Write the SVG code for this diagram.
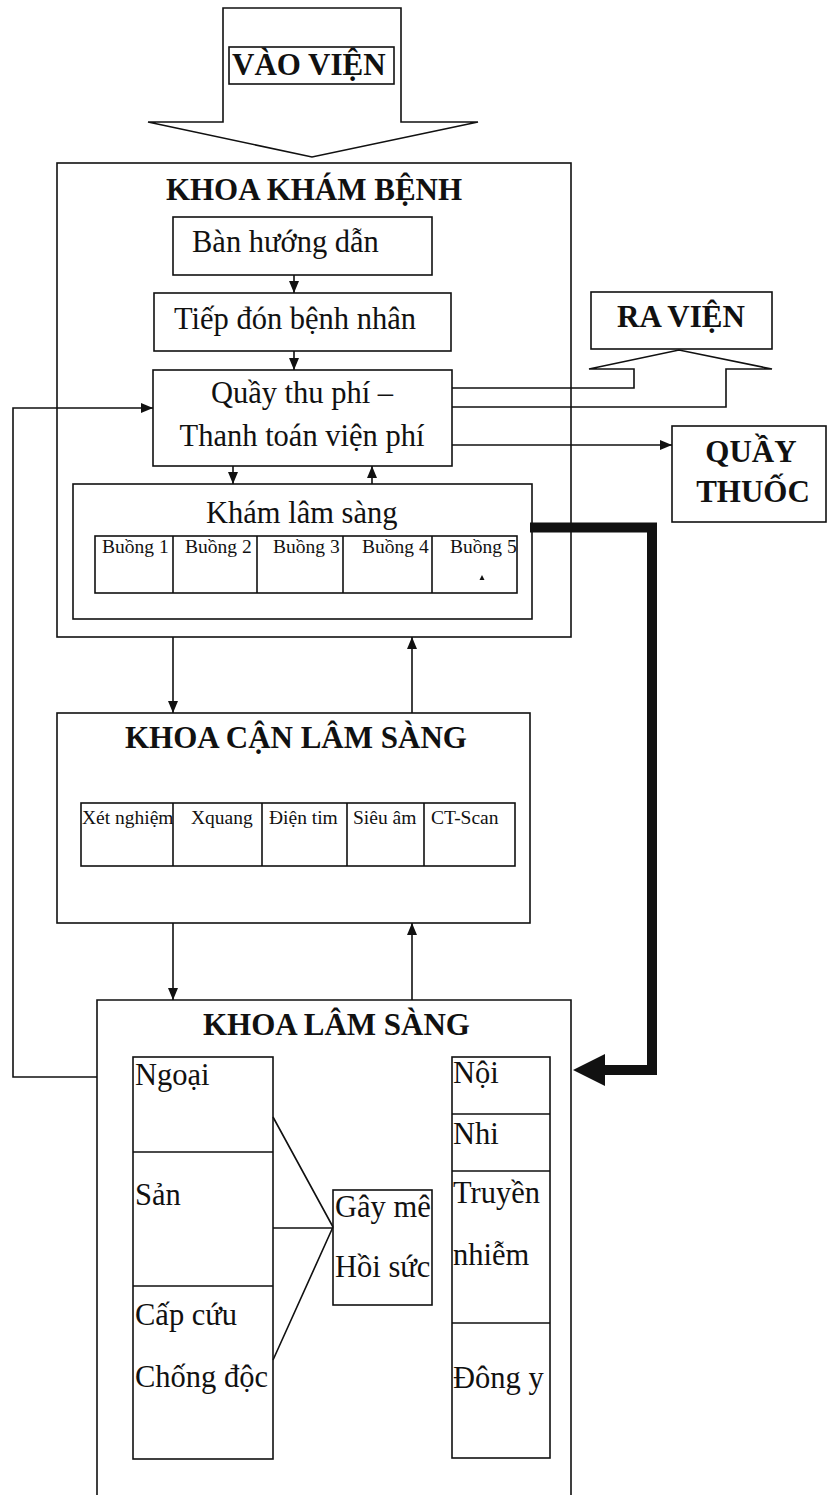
<svg xmlns="http://www.w3.org/2000/svg" width="828" height="1495" viewBox="0 0 828 1495">
  <defs>
    <style>
      .box{fill:none;stroke:#111;stroke-width:1.6}
      .ln{fill:none;stroke:#111;stroke-width:1.6}
      .t{font-family:"Liberation Serif","Times New Roman",serif;font-size:30.5px;fill:#111}
      .b{font-weight:bold;font-size:31px}
      .s{font-size:19.5px}
      .m{text-anchor:middle}
    </style>
    <marker id="ah" viewBox="0 0 12 10" refX="12" refY="5" markerWidth="12" markerHeight="10" markerUnits="userSpaceOnUse" orient="auto">
      <path d="M0,0 L12,5 L0,10 Z" fill="#111"/>
    </marker>
  </defs>
  <rect width="828" height="1495" fill="#fff"/>

  <!-- entry: big hollow arrow -->
  <g id="vao-vien">
    <polygon class="box" points="223,8 401,8 401,122 478,122 312,157 148,122 223,122"/>
    <rect class="box" x="229" y="47" width="165" height="37"/>
    <text class="t b" x="232" y="75">VÀO VIỆN</text>
  </g>

  <!-- outpatient department -->
  <g id="khoa-kham-benh">
    <rect class="box" x="57" y="163" width="514" height="474"/>
    <text class="t b m" x="314" y="200">KHOA KHÁM BỆNH</text>
  </g>
  <g id="ban-huong-dan">
    <rect class="box" x="173" y="217" width="259" height="58"/>
    <text class="t" x="192" y="252">Bàn hướng dẫn</text>
  </g>
  <g id="tiep-don">
    <rect class="box" x="154" y="293" width="297" height="58"/>
    <text class="t" x="174" y="329">Tiếp đón bệnh nhân</text>
  </g>
  <g id="quay-thu-phi">
    <rect class="box" x="153" y="370" width="299" height="96"/>
    <text class="t m" x="302" y="403">Quầy thu phí –</text>
    <text class="t m" x="302" y="446">Thanh toán viện phí</text>
  </g>
  <g id="kham-lam-sang">
    <rect class="box" x="73" y="484" width="459" height="135"/>
    <text class="t" x="206" y="523">Khám lâm sàng</text>
    <rect class="box" x="95" y="536" width="422" height="57"/>
    <path class="ln" d="M173,536 V593 M257,536 V593 M343,536 V593 M432,536 V593"/>
    <text class="t s" x="102" y="553">Buồng 1</text>
    <text class="t s" x="185" y="553">Buồng 2</text>
    <text class="t s" x="273" y="553">Buồng 3</text>
    <text class="t s" x="362" y="553">Buồng 4</text>
    <text class="t s" x="450" y="553">Buồng 5</text>
    <polygon points="479.5,580 484.5,580 482,575" fill="#111"/>
  </g>

  <!-- paraclinical department -->
  <g id="khoa-can-lam-sang">
    <rect class="box" x="57" y="713" width="473" height="210"/>
    <text class="t b" x="125" y="748">KHOA CẬN LÂM SÀNG</text>
    <rect class="box" x="81" y="803" width="434" height="63"/>
    <path class="ln" d="M173,803 V866 M262,803 V866 M347,803 V866 M424,803 V866"/>
    <text class="t s" x="82" y="824">Xét nghiệm</text>
    <text class="t s" x="191" y="824">Xquang</text>
    <text class="t s" x="269" y="824">Điện tim</text>
    <text class="t s" x="353" y="824">Siêu âm</text>
    <text class="t s" x="431" y="824">CT-Scan</text>
  </g>

  <!-- clinical departments -->
  <g id="khoa-lam-sang">
    <path class="box" d="M97,1495 V1000 H571 V1495"/>
    <text class="t b" x="203" y="1035">KHOA LÂM SÀNG</text>
  </g>
  <g id="ngoai-san-cap-cuu">
    <rect class="box" x="133" y="1057" width="140" height="402"/>
    <path class="ln" d="M133,1152 H273 M133,1286 H273"/>
    <text class="t" x="135" y="1085">Ngoại</text>
    <text class="t" x="135" y="1205">Sản</text>
    <text class="t" x="135" y="1325">Cấp cứu</text>
    <text class="t" x="135" y="1387">Chống độc</text>
  </g>
  <g id="gay-me-hoi-suc">
    <rect class="box" x="333" y="1190" width="99" height="115"/>
    <text class="t" x="335" y="1217">Gây mê</text>
    <text class="t" x="335" y="1277">Hồi sức</text>
  </g>
  <g id="noi-nhi-truyen-nhiem">
    <rect class="box" x="452" y="1057" width="98" height="401"/>
    <path class="ln" d="M452,1114 H550 M452,1171 H550 M452,1323 H550"/>
    <text class="t" x="453" y="1083">Nội</text>
    <text class="t" x="453" y="1144">Nhi</text>
    <text class="t" x="453" y="1203">Truyền</text>
    <text class="t" x="453" y="1265">nhiễm</text>
    <text class="t" x="453" y="1388">Đông y</text>
  </g>

  <!-- exits -->
  <g id="ra-vien">
    <rect class="box" x="591" y="292" width="181" height="57"/>
    <text class="t b" x="617" y="327">RA VIỆN</text>
  </g>
  <g id="quay-thuoc">
    <rect class="box" x="672" y="426" width="154" height="96"/>
    <text class="t b m" x="751" y="462">QUẦY</text>
    <text class="t b m" x="753" y="502">THUỐC</text>
  </g>

  <g id="connectors">
    <line class="ln" x1="294" y1="275" x2="294" y2="293" marker-end="url(#ah)"/>
    <line class="ln" x1="294" y1="351" x2="294" y2="370" marker-end="url(#ah)"/>
    <line class="ln" x1="233" y1="466" x2="233" y2="484" marker-end="url(#ah)"/>
    <line class="ln" x1="372" y1="484" x2="372" y2="466" marker-end="url(#ah)"/>
    <line class="ln" x1="173" y1="637" x2="173" y2="713" marker-end="url(#ah)"/>
    <line class="ln" x1="412" y1="713" x2="412" y2="637" marker-end="url(#ah)"/>
    <line class="ln" x1="173" y1="923" x2="173" y2="1000" marker-end="url(#ah)"/>
    <line class="ln" x1="412" y1="1000" x2="412" y2="923" marker-end="url(#ah)"/>
    <line class="ln" x1="452" y1="445" x2="672" y2="445" marker-end="url(#ah)"/>
    <path class="ln" d="M97,1077 H13 V408 H153" marker-end="url(#ah)"/>
    <!-- hollow exit arrow towards RA VIỆN -->
    <path class="ln" d="M452,388 H634 V369 H589 L679,350 L772,369 H726 V407 H452"/>
    <!-- heavy transfer arrow -->
    <path d="M530,527.5 H652 V1070 H600" fill="none" stroke="#111" stroke-width="10" stroke-linejoin="miter"/>
    <polygon points="573,1070 605,1054 605,1086" fill="#111"/>
    <!-- links to anaesthesia -->
    <path class="ln" d="M273,1117 L333,1227 M273,1228 H333 M273,1360 L333,1227"/>
  </g>
</svg>
